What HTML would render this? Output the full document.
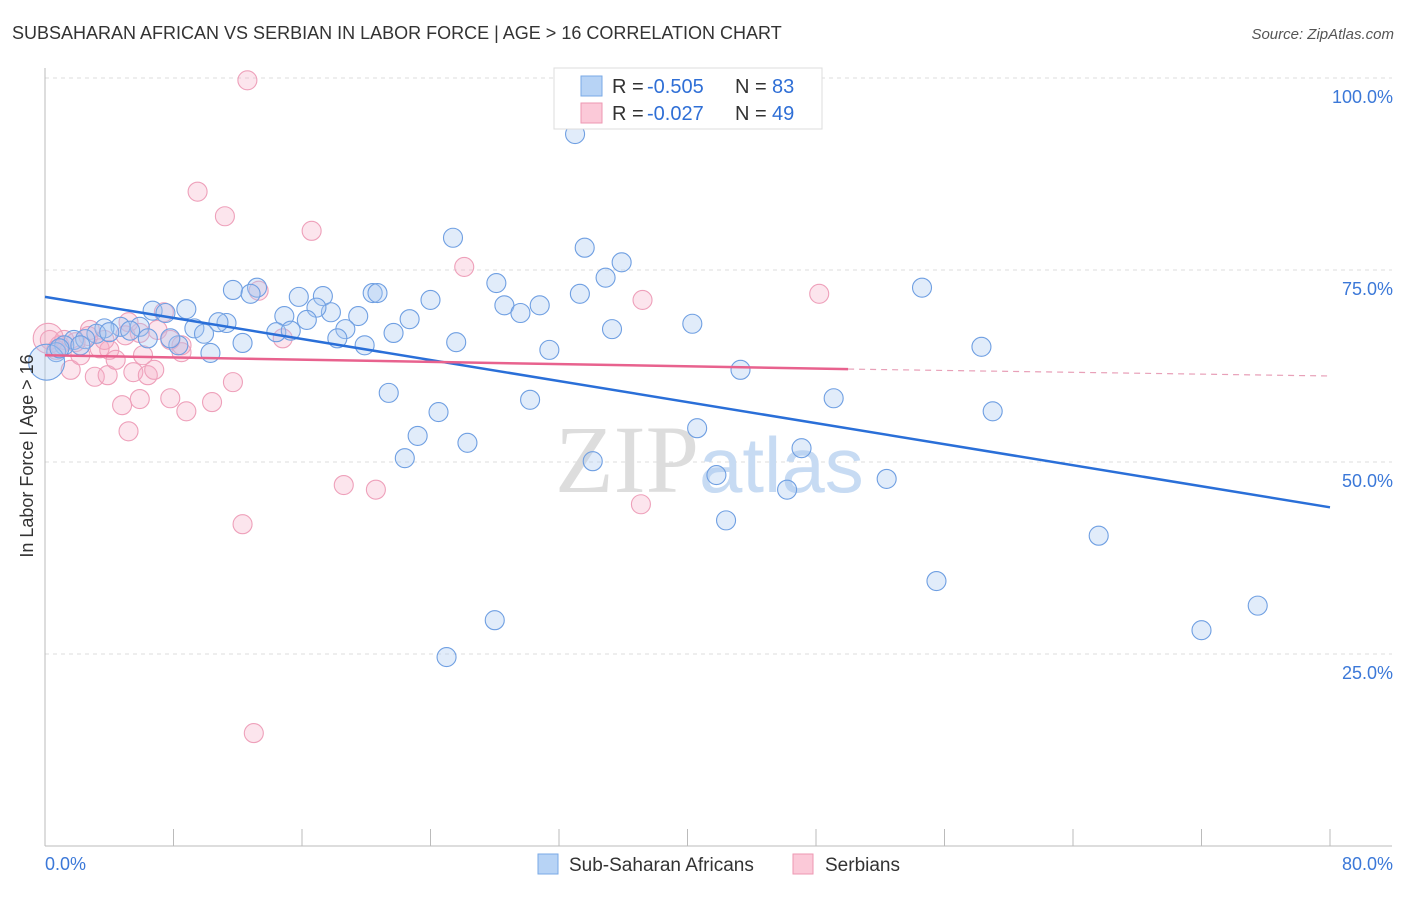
<!DOCTYPE html>
<html><head><meta charset="utf-8"><style>
body{margin:0;background:#fff;font-family:"Liberation Sans",sans-serif;}
</style></head><body>
<svg id="chart" width="1406" height="892" xmlns="http://www.w3.org/2000/svg" font-family="Liberation Sans, sans-serif">
<text x="12" y="39" font-size="18" fill="#333">SUBSAHARAN AFRICAN VS SERBIAN IN LABOR FORCE | AGE &gt; 16 CORRELATION CHART</text>
<text x="1394" y="39" font-size="15" fill="#555" font-style="italic" text-anchor="end">Source: ZipAtlas.com</text>
<g id="grid"></g>
<g id="axes"></g>
<text x="555" y="492" font-size="96" font-family="Liberation Serif, serif" fill="#ddd">ZIP<tspan fill="#c7dbf3" font-family="Liberation Sans, sans-serif" font-size="78">atlas</tspan></text>
<g id="pink"></g>
<g id="blue"></g>
<g id="trends"></g>
<text transform="translate(33,456) rotate(-90)" font-size="18" fill="#333" text-anchor="middle">In Labor Force | Age &gt; 16</text>
<g>
<rect x="554" y="68" width="268" height="61" fill="#fff" stroke="#ddd"/>
<rect x="581" y="76" width="21" height="20" fill="#b7d3f5" stroke="#7aa9e6"/>
<rect x="581" y="103" width="21" height="20" fill="#fbc9d8" stroke="#ee97b2"/>
<text x="612" y="93" font-size="20" fill="#333">R =</text>
<text x="647" y="93" font-size="20" fill="#2f6fd6">-0.505</text>
<text x="735" y="93" font-size="20" fill="#333">N =</text>
<text x="772" y="93" font-size="20" fill="#2f6fd6">83</text>
<text x="612" y="120" font-size="20" fill="#333">R =</text>
<text x="647" y="120" font-size="20" fill="#2f6fd6">-0.027</text>
<text x="735" y="120" font-size="20" fill="#333">N =</text>
<text x="772" y="120" font-size="20" fill="#2f6fd6">49</text>
</g>
<g>
<rect x="538" y="854" width="20" height="20" fill="#b7d3f5" stroke="#7aa9e6"/>
<text x="569" y="871" font-size="19" fill="#333">Sub-Saharan Africans</text>
<rect x="793" y="854" width="20" height="20" fill="#fbc9d8" stroke="#ee97b2"/>
<text x="825" y="871" font-size="19" fill="#333">Serbians</text>
</g>
</svg>
<script>
const xTicks=[0,10,20,30,40,50,60,70,80];
const yTicks=[25,50,75,100];
const yTickLabels=["25.0%","50.0%","75.0%","100.0%"];
const blueX=[33.0,25.4,33.6,35.9,34.9,28.1,11.7,13.2,12.8,15.8,17.3,20.4,20.7,24.0,28.6,30.8,29.6,33.3,6.7,8.8,7.5,17.8,16.9,14.9,16.3,19.5,22.7,11.3,10.8,9.3,5.9,4.7,3.7,5.3,9.9,14.4,15.3,18.7,21.7,35.3,40.3,12.3,18.2,19.9,25.6,31.4,10.3,8.3,7.8,6.4,3.2,1.8,1.2,0.7,0.1,21.4,24.5,30.2,23.2,26.3,22.4,34.1,40.6,43.3,49.1,47.1,41.8,46.2,52.4,42.4,54.6,58.3,59.0,65.6,55.5,72.0,75.5,28.0,25.0,2.5,4.0,0.9,2.2];
const blueY=[92.7,79.2,77.9,76.0,74.0,73.3,72.4,72.7,71.9,71.5,71.6,72.0,72.0,71.1,70.4,70.4,69.4,71.9,69.7,69.9,69.4,69.5,70.1,69.0,68.5,69.0,68.6,68.1,68.2,67.4,67.6,67.6,67.4,67.1,66.7,66.9,67.1,67.3,66.8,67.3,68.0,65.5,66.1,65.2,65.6,64.6,64.2,65.2,66.1,66.1,66.7,65.9,65.2,64.3,63.0,59.0,56.5,58.1,53.4,52.5,50.5,50.1,54.4,62.0,58.3,51.8,48.3,46.4,47.8,42.4,72.7,65.0,56.6,40.4,34.5,28.1,31.3,29.4,24.6,66.0,66.9,64.8,65.2];
const pinkX=[12.6,9.5,11.2,16.6,26.1,37.2,48.2,13.3,14.8,7.4,5.2,2.8,3.4,0.9,0.3,1.6,3.1,3.9,4.8,4.0,5.9,7.0,8.5,4.4,5.5,6.4,6.8,6.1,5.0,5.9,7.8,8.8,10.4,11.7,5.2,18.6,20.6,12.3,37.1,13.0,2.2,1.2,2.7,0.2,0.7,1.9,3.7,7.8,8.5];
const pinkY=[99.7,85.2,82.0,80.1,75.4,71.1,71.9,72.3,66.1,69.5,68.2,67.2,64.8,65.2,65.9,62.0,61.1,61.3,57.4,64.6,66.8,67.2,64.3,63.3,61.7,61.3,62.0,63.9,66.5,58.2,58.3,56.6,57.8,60.4,54.0,47.0,46.4,41.9,44.5,14.7,63.9,65.9,66.4,66.1,64.6,65.6,65.9,65.9,65.2];
const blueTrend=[[0,71.5],[80,44.1]];
const pinkTrend=[[0,63.9],[50.0,62.1],[80,61.2]];
const X=v=>45+v*(1285/80), Y=v=>846-v*7.68;
const NS="http://www.w3.org/2000/svg";
function mk(t,a,p){const e=document.createElementNS(NS,t);for(const k in a)e.setAttribute(k,a[k]);p.appendChild(e);return e;}
const grid=document.getElementById('grid'),axes=document.getElementById('axes');
yTicks.forEach((t,i)=>{
 const l=mk('line',{x1:45,x2:1392,y1:Y(t),y2:Y(t),stroke:'#ddd','stroke-dasharray':'4,4'},grid);
 
 
 const tx=mk('text',{x:1393,y:Y(t)+25,'font-size':18,fill:'#3b78d8','text-anchor':'end'},axes);
 tx.textContent=yTickLabels[i];
 
 
});
mk('line',{x1:45,x2:45,y1:68,y2:846,stroke:'#bbb'},axes);
mk('line',{x1:45,x2:1392,y1:846,y2:846,stroke:'#bbb'},axes);
for(let v=0;v<=80;v+=8){const tk=mk('line',{x1:X(v),x2:X(v),y1:829,y2:846,stroke:'#bbb'},axes);
 
 }
const xl0=mk('text',{x:45,y:870,'font-size':18,fill:'#3b78d8'},axes);xl0.textContent='0.0%';


const xl1=mk('text',{x:1393,y:870,'font-size':18,fill:'#3b78d8','text-anchor':'end'},axes);xl1.textContent='80.0%';


function dots(xs,ys,g,fill,stroke,name){xs.forEach((x,i)=>{
 const big=(x<0.3)?(name==='blue'?18:15):9.5;
 const c=mk('circle',{cx:X(x),cy:Y(ys[i]),r:big,fill:fill,stroke:stroke,'stroke-width':1.1},g);
 
 });}
dots(pinkX,pinkY,document.getElementById('pink'),'rgba(246,170,196,0.3)','#eea0ba','serbian');
dots(blueX,blueY,document.getElementById('blue'),'rgba(168,200,242,0.35)','#6f9fe2','blue');
const tr=document.getElementById('trends');
const bl=mk('line',{x1:X(blueTrend[0][0]),y1:Y(blueTrend[0][1]),x2:X(blueTrend[1][0]),y2:Y(blueTrend[1][1]),stroke:'#2a6fd8','stroke-width':2.5},tr);


const pl=mk('line',{x1:X(pinkTrend[0][0]),y1:Y(pinkTrend[0][1]),x2:X(pinkTrend[1][0]),y2:Y(pinkTrend[1][1]),stroke:'#e8628e','stroke-width':2.5},tr);


const pd=mk('line',{x1:X(pinkTrend[1][0]),y1:Y(pinkTrend[1][1]),x2:X(pinkTrend[2][0]),y2:Y(pinkTrend[2][1]),stroke:'#e8a0b8','stroke-width':1.2,'stroke-dasharray':'6,5'},tr);


</script>
</body></html>
